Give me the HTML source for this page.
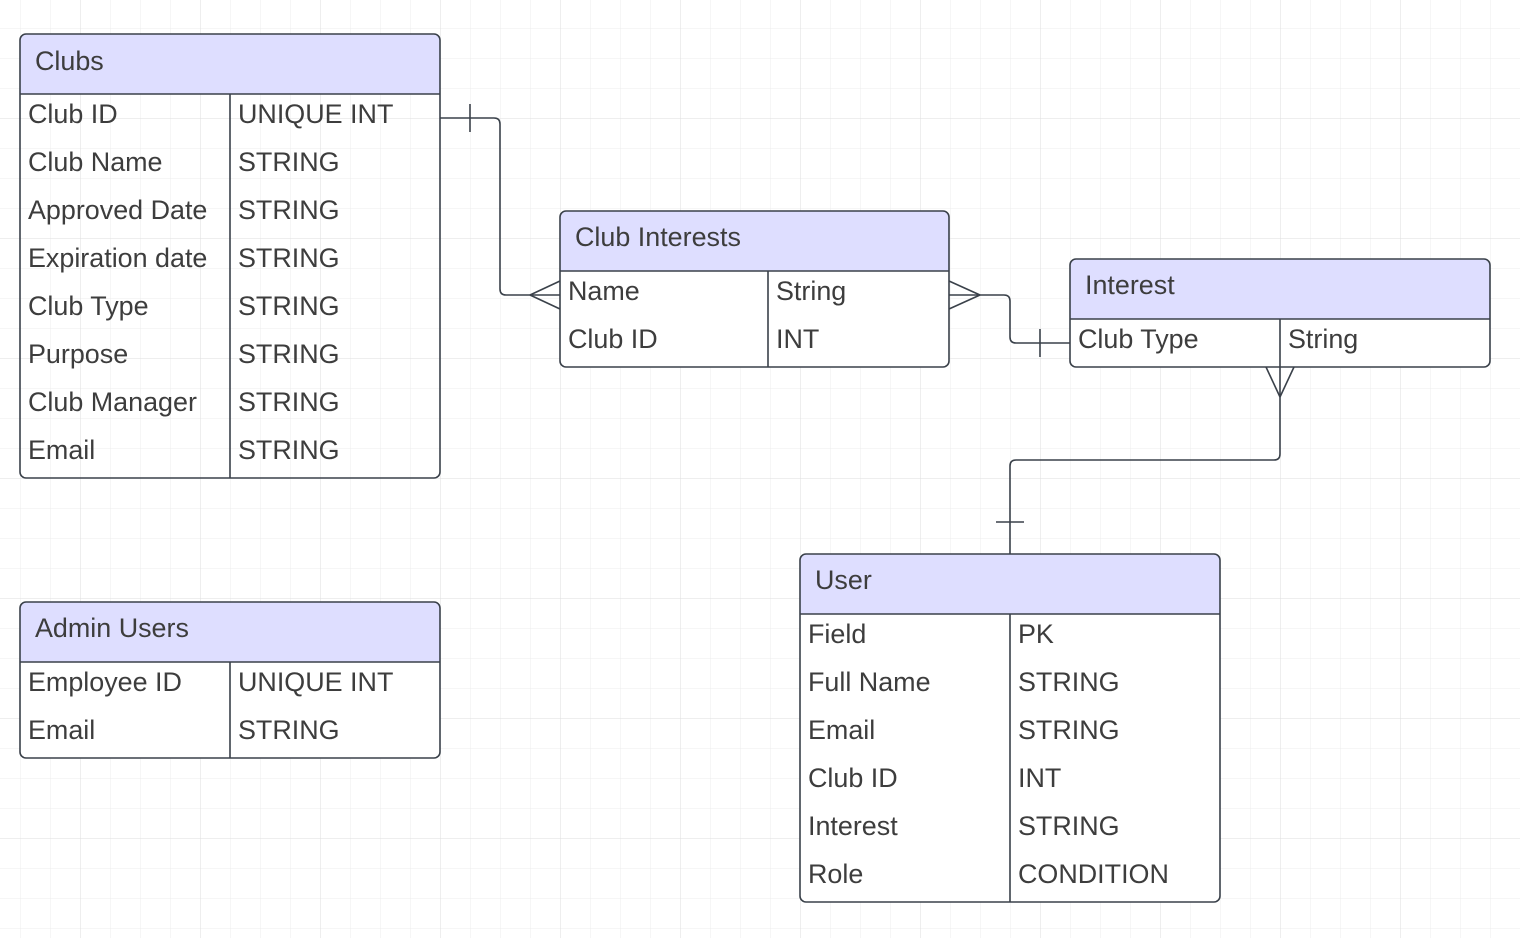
<!DOCTYPE html>
<html><head><meta charset="utf-8"><style>
html,body{margin:0;padding:0;background:#fff;}
svg{display:block;}
text{font-family:"Liberation Sans",sans-serif;font-size:26.9px;fill:#3d3d3d;}
</style></head><body>
<svg width="1520" height="938" viewBox="0 0 1520 938" xmlns="http://www.w3.org/2000/svg">
<defs>
<pattern id="g" x="20" y="28" width="30" height="30" patternUnits="userSpaceOnUse">
<path d="M0 0H30M0 0V30" stroke="#ececec" stroke-width="1" fill="none"/>
</pattern>
<pattern id="G" x="80" y="118" width="120" height="120" patternUnits="userSpaceOnUse">
<path d="M0 0H120M0 0V120" stroke="#dedede" stroke-width="1" fill="none"/>
</pattern>
</defs>
<rect width="1520" height="938" fill="url(#g)"/>
<rect width="1520" height="938" fill="url(#G)"/>

<g stroke="#3a414a" stroke-width="1.6" fill="none">
<path d="M440 118H494Q500 118 500 124V289Q500 295 506 295H560"/>
<path d="M470 104V132"/>
<path d="M530 295L560 281M530 295L560 309"/>
<path d="M949 295H1004Q1010 295 1010 301V337Q1010 343 1016 343H1070"/>
<path d="M980 295L949 281M980 295L949 309"/>
<path d="M1040 329V357"/>
<path d="M1280 367V454Q1280 460 1274 460H1016Q1010 460 1010 466V554"/>
<path d="M1280 397L1266 367M1280 397L1294 367"/>
<path d="M996 522H1024"/>
</g>

<g>
<path d="M20 94V40Q20 34 26 34H434Q440 34 440 40V94Z" fill="#dedeff"/>
<rect x="20" y="34" width="420" height="444" rx="6" fill="none" stroke="#3a414a" stroke-width="1.6"/>
<path d="M20 94H440M230 94V478" stroke="#3a414a" stroke-width="1.6"/>
<text x="35" y="70">Clubs</text>
<text x="28" y="123">Club ID</text><text x="238" y="123">UNIQUE INT</text>
<text x="28" y="171">Club Name</text><text x="238" y="171">STRING</text>
<text x="28" y="219">Approved Date</text><text x="238" y="219">STRING</text>
<text x="28" y="267">Expiration date</text><text x="238" y="267">STRING</text>
<text x="28" y="315">Club Type</text><text x="238" y="315">STRING</text>
<text x="28" y="363">Purpose</text><text x="238" y="363">STRING</text>
<text x="28" y="411">Club Manager</text><text x="238" y="411">STRING</text>
<text x="28" y="459">Email</text><text x="238" y="459">STRING</text>
</g>

<g>
<path d="M560 271V217Q560 211 566 211H943Q949 211 949 217V271Z" fill="#dedeff"/>
<path d="M560 271H949V361Q949 367 943 367H566Q560 367 560 361Z" fill="#fff"/>
<rect x="560" y="211" width="389" height="156" rx="6" fill="none" stroke="#3a414a" stroke-width="1.6"/>
<path d="M560 271H949M768 271V367" stroke="#3a414a" stroke-width="1.6"/>
<text x="575" y="246">Club Interests</text>
<text x="568" y="300">Name</text><text x="776" y="300">String</text>
<text x="568" y="348">Club ID</text><text x="776" y="348">INT</text>
</g>

<g>
<path d="M1070 319V265Q1070 259 1076 259H1484Q1490 259 1490 265V319Z" fill="#dedeff"/>
<path d="M1070 319H1490V361Q1490 367 1484 367H1076Q1070 367 1070 361Z" fill="#fff"/>
<rect x="1070" y="259" width="420" height="108" rx="6" fill="none" stroke="#3a414a" stroke-width="1.6"/>
<path d="M1070 319H1490M1280 319V367" stroke="#3a414a" stroke-width="1.6"/>
<text x="1085" y="294">Interest</text>
<text x="1078" y="348">Club Type</text><text x="1288" y="348">String</text>
</g>

<g>
<path d="M20 662V608Q20 602 26 602H434Q440 602 440 608V662Z" fill="#dedeff"/>
<path d="M20 662H440V752Q440 758 434 758H26Q20 758 20 752Z" fill="#fff"/>
<rect x="20" y="602" width="420" height="156" rx="6" fill="none" stroke="#3a414a" stroke-width="1.6"/>
<path d="M20 662H440M230 662V758" stroke="#3a414a" stroke-width="1.6"/>
<text x="35" y="637">Admin Users</text>
<text x="28" y="691">Employee ID</text><text x="238" y="691">UNIQUE INT</text>
<text x="28" y="739">Email</text><text x="238" y="739">STRING</text>
</g>

<g>
<path d="M800 614V560Q800 554 806 554H1214Q1220 554 1220 560V614Z" fill="#dedeff"/>
<path d="M800 614H1220V896Q1220 902 1214 902H806Q800 902 800 896Z" fill="#fff"/>
<rect x="800" y="554" width="420" height="348" rx="6" fill="none" stroke="#3a414a" stroke-width="1.6"/>
<path d="M800 614H1220M1010 614V902" stroke="#3a414a" stroke-width="1.6"/>
<text x="815" y="589">User</text>
<text x="808" y="643">Field</text><text x="1018" y="643">PK</text>
<text x="808" y="691">Full Name</text><text x="1018" y="691">STRING</text>
<text x="808" y="739">Email</text><text x="1018" y="739">STRING</text>
<text x="808" y="787">Club ID</text><text x="1018" y="787">INT</text>
<text x="808" y="835">Interest</text><text x="1018" y="835">STRING</text>
<text x="808" y="883">Role</text><text x="1018" y="883">CONDITION</text>
</g>
</svg>
</body></html>
